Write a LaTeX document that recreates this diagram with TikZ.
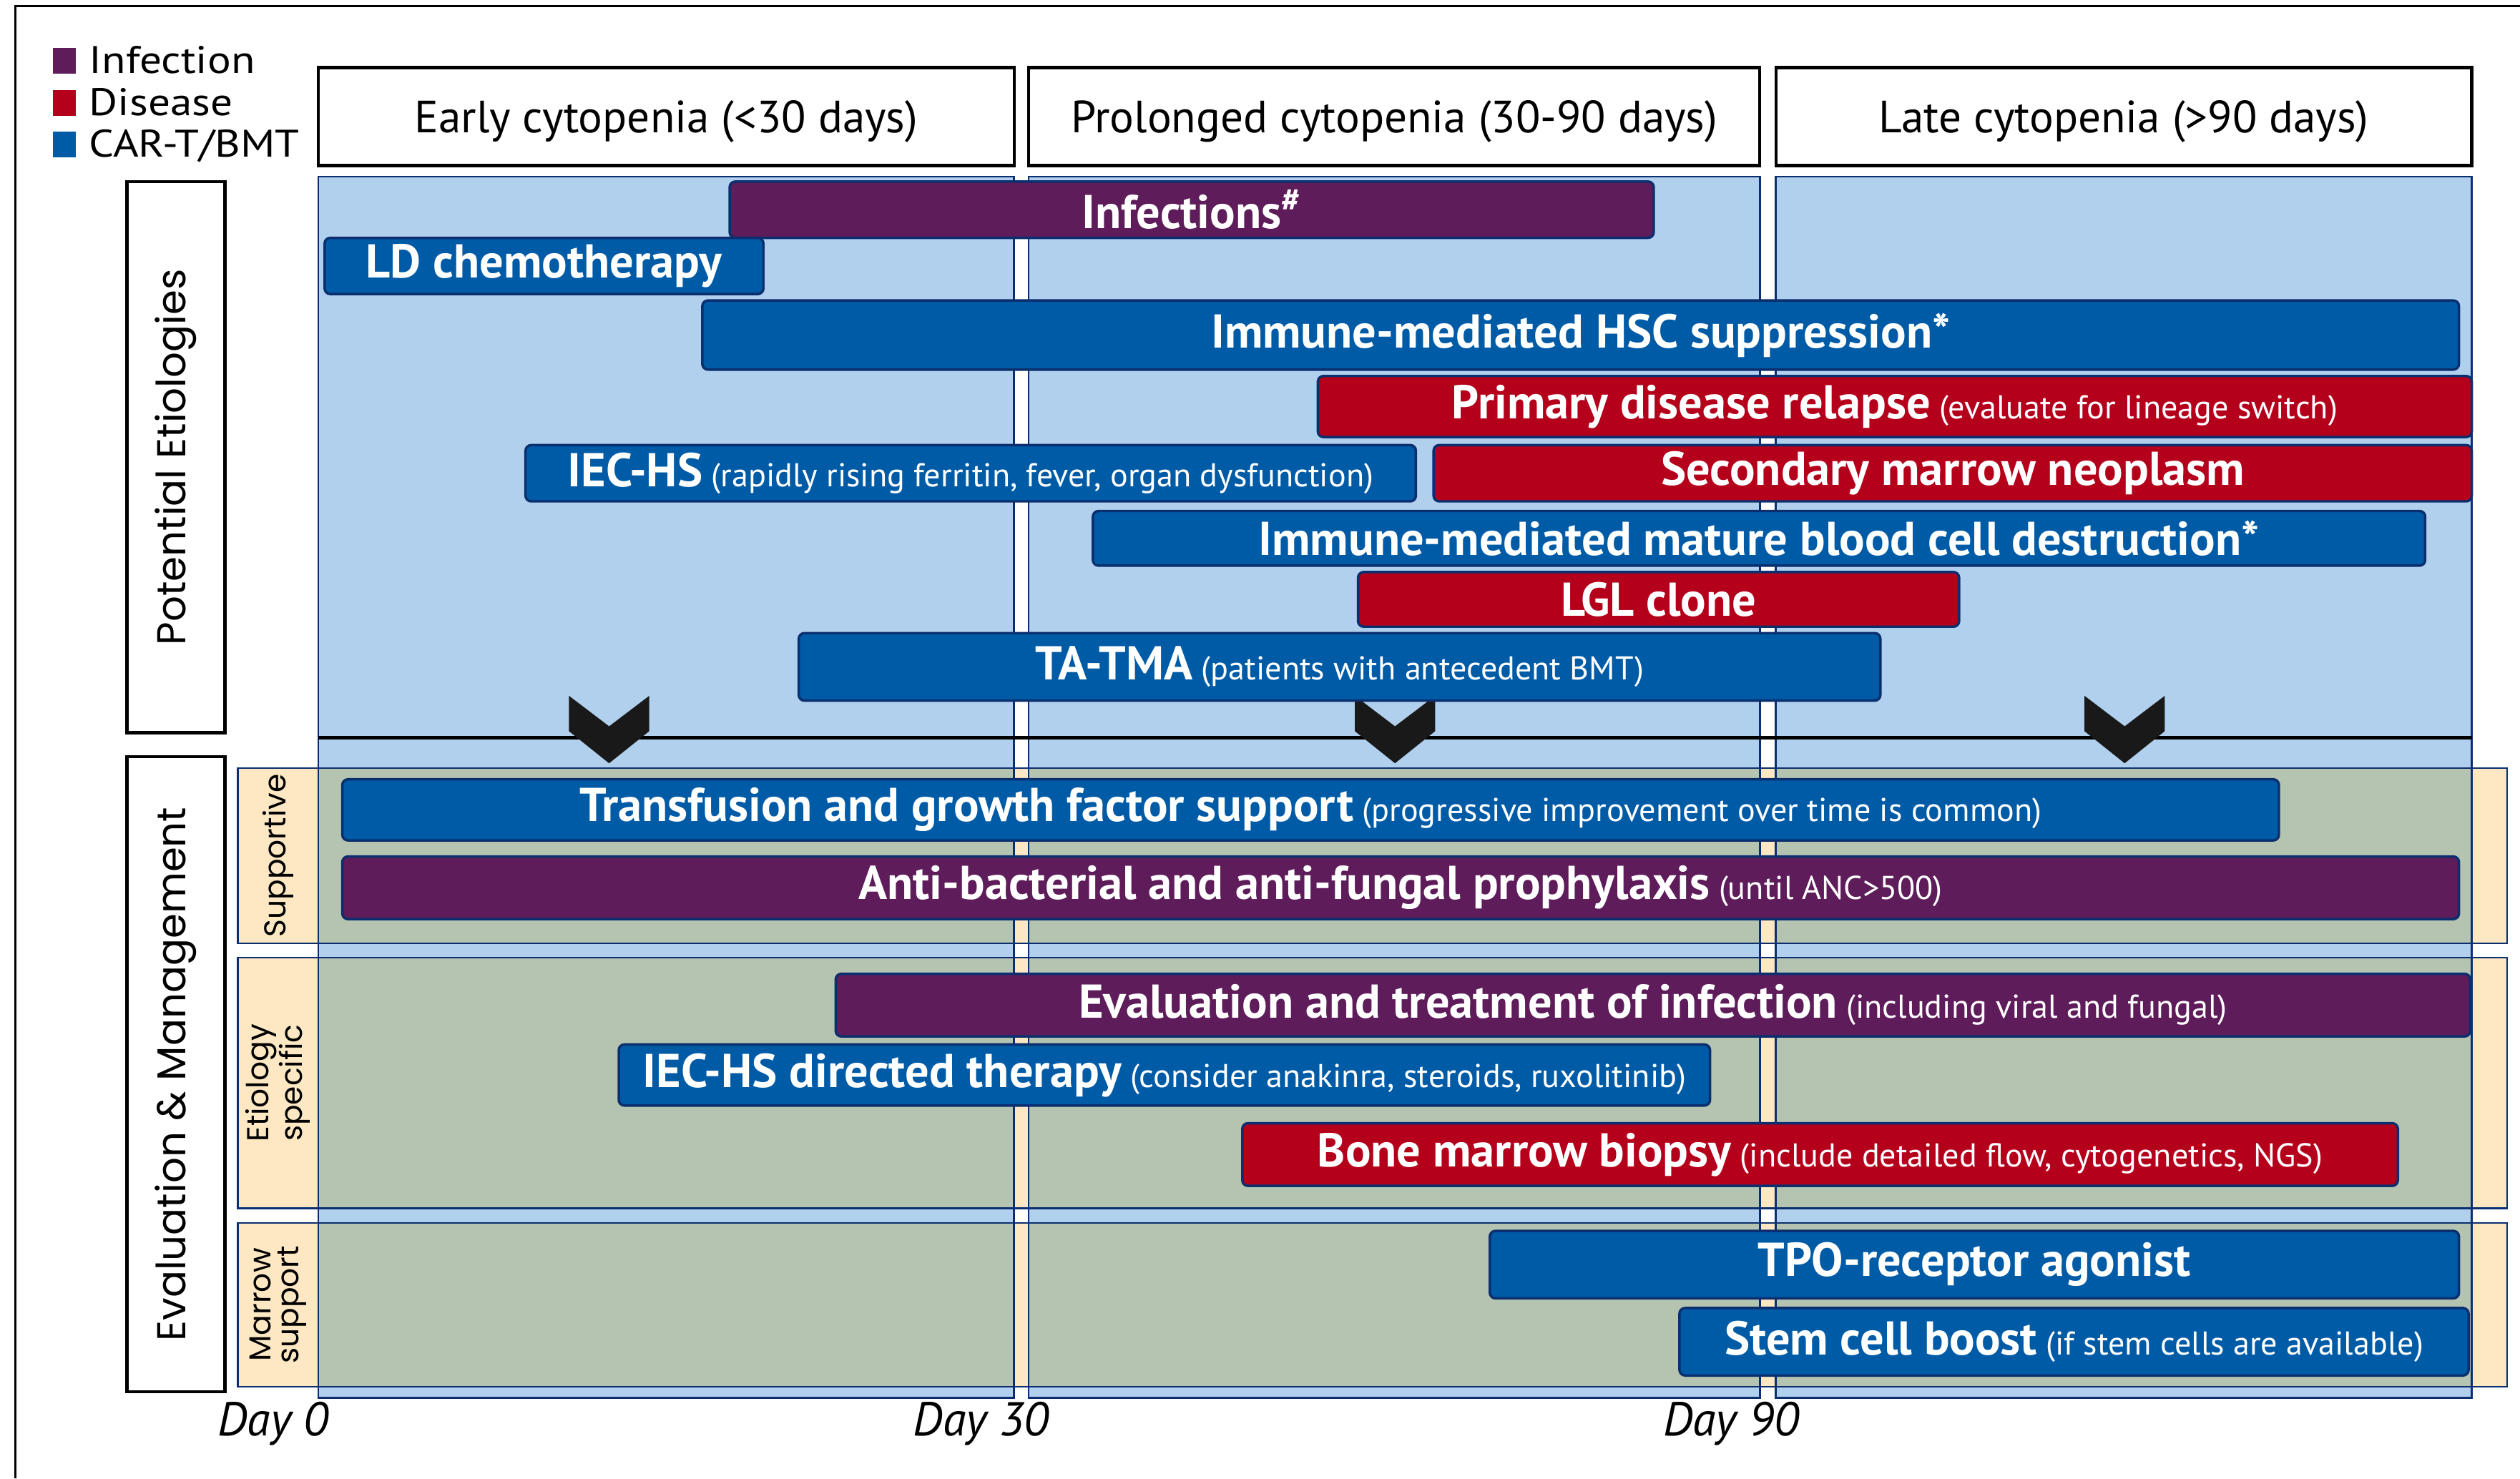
\documentclass[tikz,border=0pt]{standalone}
\usepackage{fontspec}
\setmainfont{PT Sans}
\newfontfamily\geo{Poppins}
\newfontfamily\legfont{PT Sans}[FakeStretch=1.14]
\usetikzlibrary{positioning}

\definecolor{cpurple}{HTML}{5E1C5A}
\definecolor{cblue}{HTML}{005BA6}
\definecolor{cred}{HTML}{B5001C}
\definecolor{clight}{HTML}{B0D0EE}
\definecolor{cgreen}{HTML}{B5C4B1}
\definecolor{ccream}{HTML}{FDE8C3}
\definecolor{cnavy}{HTML}{0B2F6E}

% smaller plain text after a bold bar label
\newcommand\nt[1]{{\fontsize{14.6}{16}\selectfont\mdseries\ #1}}

\begin{document}
\begin{tikzpicture}[x=0.025cm, y=-0.025cm,
        bx/.style 2 args={minimum width=#1*0.025cm, minimum height=#2*0.025cm},
        bar/.style={draw=cnavy, line width=1.1pt, rounded corners=2.5pt, inner sep=0pt,
            text=white, font=\fontsize{21}{23}\selectfont\bfseries},
        head/.style={draw=black, line width=1.4pt, fill=white, inner sep=0pt, text depth=0pt,
            font=\fontsize{20}{22}\selectfont},
        side/.style={draw=black, line width=1.4pt, fill=white, rotate=90, inner sep=0pt,
            font=\geo\fontsize{17.8}{20}\selectfont},
        sub/.style={rotate=90, align=center, inner sep=0pt,
            font=\geo\fontsize{13.4}{12.5}\selectfont},
        day/.style={inner sep=0pt, font=\fontsize{21}{23}\selectfont\itshape},
        legsq/.style={inner sep=0pt, bx={14}{16}},
        legtxt/.style={inner sep=0pt, text height=11.5pt, text depth=0.5pt,
            font=\legfont\fontsize{17}{18}\selectfont},
        panel/.style={fill=ccream, draw=cnavy, line width=0.8pt},
        colbox/.style={draw=cnavy, line width=0.8pt}]
\useasboundingbox (0,0) rectangle (1568,920);
\draw[line width=1pt] (9.5,920) -- (9.5,3.7) -- (1568,3.7);

% columns and panels
\foreach \xa/\xb in {198/631, 640/1095, 1105/1538}
    \draw[colbox, fill=clight] (\xa,110) rectangle (\xb,870);
\draw[line width=1.4pt] (198,459) -- (1538,459);
\foreach \ya/\yb in {478/587, 596/752, 761/863} {
    \draw[panel] (148,\ya) rectangle (1560,\yb);
    \foreach \xa/\xb in {198/631, 640/1095, 1105/1538}
        \draw[colbox, fill=cgreen] (\xa,\ya) rectangle (\xb,\yb);
}
\foreach \cx in {379, 868, 1322}
    \fill[black!90] (\cx-25,433) -- (\cx,452) -- (\cx+25,433) -- (\cx+25,455)
        -- (\cx,475) -- (\cx-25,455) -- cycle;

% legend
\node[legsq, fill=cpurple] (leginf) at (40,38) {};
\node[legsq, fill=cred] (legdis) at (40,64) {};
\node[legsq, fill=cblue] (legcar) at (40,90) {};
\node[legtxt, right=0.2cm of leginf] {Infection};
\node[legtxt, right=0.2cm of legdis] {Disease};
\node[legtxt, right=0.2cm of legcar] {CAR-T/BMT};

% headers
\node[head, bx={433}{61}] (early) at (414.5,72.5) {Early cytopenia (<30 days)};
\node[head, bx={455}{61}] (prolonged) at (867.5,72.5) {Prolonged cytopenia (30-90 days)};
\node[head, bx={433}{61}] (late) at (1321.5,72.5) {Late cytopenia (>90 days)};

\node[side, bx={343}{61}] (etio) at (109.5,284.5) {Potential Etiologies};
\node[side, bx={395}{61}] (evalmgmt) at (109.5,668.5) {Evaluation \& Management};
\node[sub] (supp) at (173,532.5) {Supportive};
\node[sub] (spec) at (173,674) {Etiology\\specific};
\node[sub] (marrow) at (173,812) {Marrow\\support};

% etiologies
\node[bar, fill=cpurple, bx={575}{35}] (infect) at (741.5,130.5) {Infections\textsuperscript{\#}};
\node[bar, fill=cblue, bx={273}{35}] (ldchemo) at (338.5,165.5) {LD chemotherapy};
\node[bar, fill=cblue, bx={1093}{43}] (hsc) at (983.5,208.5) {Immune-mediated HSC suppression*};
\node[bar, fill=cred, bx={718}{38}] (relapse) at (1179,253) {Primary disease relapse\nt{(evaluate for lineage switch)}};
\node[bar, fill=cblue, bx={554}{35}] (iechs) at (604,294.5) {IEC-HS\nt{(rapidly rising ferritin, fever, organ dysfunction)}};
\node[bar, fill=cred, bx={646}{35}] (neoplasm) at (1215,294.5) {Secondary marrow neoplasm};
\node[bar, fill=cblue, bx={829}{34}] (mature) at (1094.5,335) {Immune-mediated mature blood cell destruction*};
\node[bar, fill=cred, bx={374}{34}] (lgl) at (1032,373) {LGL clone};
\node[bar, fill=cblue, bx={673}{42}] (tatma) at (833.5,415) {TA-TMA\nt{(patients with antecedent BMT)}};

% management
\node[bar, fill=cblue, bx={1205}{38}] (transf) at (815.5,504) {Transfusion and growth factor support\nt{(progressive improvement over time is common)}};
\node[bar, fill=cpurple, bx={1317}{39}] (proph) at (871.5,552.5) {Anti-bacterial and anti-fungal prophylaxis\nt{(until ANC>500)}};
\node[bar, fill=cpurple, bx={1017}{39}] (evalinf) at (1028.5,625.5) {Evaluation and treatment of infection\nt{(including viral and fungal)}};
\node[bar, fill=cblue, bx={679}{38}] (iecther) at (724.5,669) {IEC-HS directed therapy\nt{(consider anakinra, steroids, ruxolitinib)}};
\node[bar, fill=cred, bx={719}{39}] (bmbx) at (1132.5,718.5) {Bone marrow biopsy\nt{(include detailed flow, cytogenetics, NGS)}};
\node[bar, fill=cblue, bx={603}{42}] (tpo) at (1228.5,787) {TPO-receptor agonist};
\node[bar, fill=cblue, bx={491}{42}] (boost) at (1290.5,835) {Stem cell boost\nt{(if stem cells are available)}};

% time axis
\node[day] (day0) at (170,886) {Day 0};
\node[day] (day30) at (610.5,886) {Day 30};
\node[day] (day90) at (1077,886) {Day 90};
\end{tikzpicture}
\end{document}
